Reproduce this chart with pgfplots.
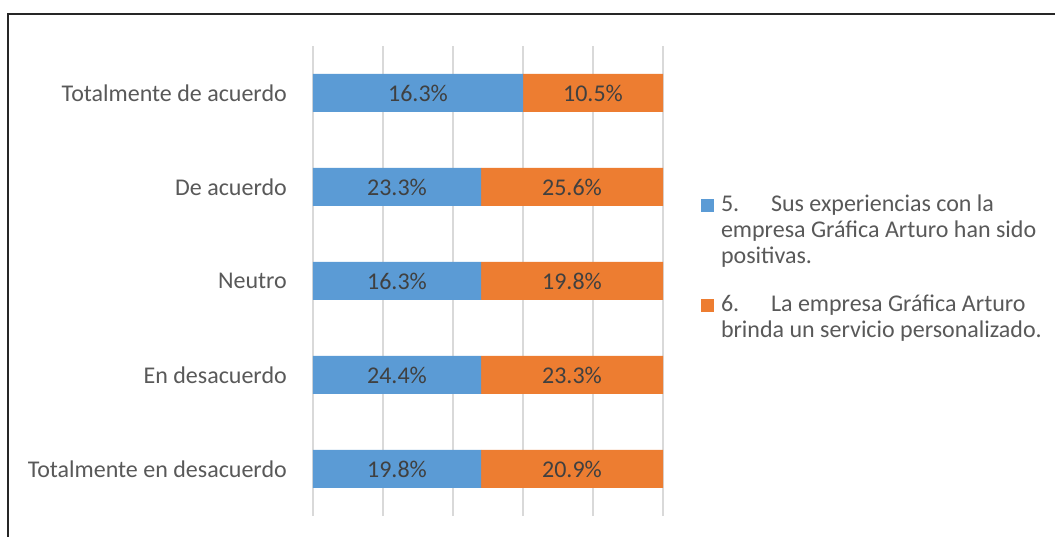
\documentclass[border=0pt]{standalone}
\usepackage{fontspec}
\setmainfont{Carlito}
\usepackage{pgfplots}
\pgfplotsset{compat=1.18}
\definecolor{cblue}{HTML}{5B9BD5}
\definecolor{corange}{HTML}{ED7D31}
\definecolor{lbl}{HTML}{595959}
\definecolor{dlbl}{HTML}{404040}
\definecolor{grd}{HTML}{D9D9D9}
\begin{document}
\begin{tikzpicture}[x=1pt,y=1pt]
\useasboundingbox (0,0) rectangle (1055,537);
\fill[white] (0,0) rectangle (1055,537);
\draw[line width=2pt, black!85] (8,-5) -- (8,523) -- (1060,523);
\begin{axis}[
  at={(313pt,21pt)}, anchor=south west,
  scale only axis, width=350pt, height=470pt,
  xbar stacked,
  xmin=0, xmax=100, ymin=-0.5, ymax=4.5,
  xtick={0,20,...,100}, xticklabel=\empty,
  ytick={0,...,4},
  yticklabels={Totalmente en desacuerdo, En desacuerdo, Neutro, De acuerdo, Totalmente de acuerdo},
  xmajorgrids, grid style={grd, line width=1.5pt},
  axis line style={draw=none}, major tick length=0pt,
  y tick label style={font=\fontsize{24}{26}\selectfont, text=lbl, inner sep=0pt, xshift=-26pt},
  bar width=38pt,
  legend cell align=left,
  legend image code/.code={\fill[#1] (0pt,0pt) rectangle (13pt,13pt);},
  legend style={at={(1.1086,0.6831)}, anchor=north west, draw=none, fill=none,
    inner sep=0pt, outer sep=0pt, row sep=82pt,
    font=\fontsize{24}{26}\selectfont, text=lbl,
    nodes={inner sep=0pt, anchor=base},
    /tikz/every odd column/.style={column sep=7pt}},
]
\addplot[fill=cblue, draw=none] coordinates {(48,0) (48,1) (48,2) (48,3) (60,4)};
\addlegendentry{\parbox[t]{330pt}{\raggedright\makebox[50pt][l]{5.}Sus experiencias con la\\empresa Gráfica Arturo han sido\\positivas.}}
\addplot[fill=corange, draw=none] coordinates {(52,0) (52,1) (52,2) (52,3) (40,4)};
\addlegendentry{\parbox[t]{330pt}{\raggedright\makebox[50pt][l]{6.}La empresa Gráfica Arturo\\brinda un servicio personalizado.}}
\end{axis}
\begin{axis}[
  at={(313pt,21pt)}, anchor=south west,
  scale only axis, width=350pt, height=470pt,
  xmin=0, xmax=100, ymin=-0.5, ymax=4.5, hide axis,
  every node near coord/.append style={anchor=center, font=\fontsize{24}{26}\selectfont, text=dlbl, inner sep=0pt},
]
\addplot[draw=none, mark=none, nodes near coords, point meta=explicit symbolic]
  coordinates {(24,0)[19.8\%] (24,1)[24.4\%] (24,2)[16.3\%] (24,3)[23.3\%] (30,4)[16.3\%]};
\addplot[draw=none, mark=none, nodes near coords, point meta=explicit symbolic]
  coordinates {(74,0)[20.9\%] (74,1)[23.3\%] (74,2)[19.8\%] (74,3)[25.6\%] (80,4)[10.5\%]};
\end{axis}
\end{tikzpicture}
\end{document}
